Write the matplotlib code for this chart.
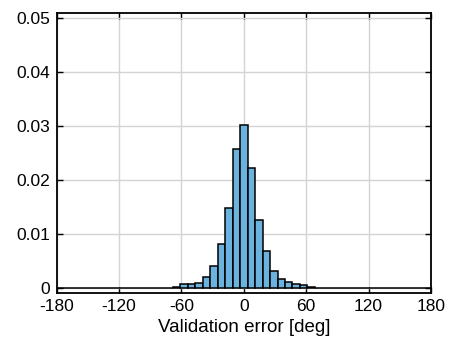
import numpy as np
import matplotlib
matplotlib.use("Agg")
import matplotlib.pyplot as plt
from matplotlib.ticker import FormatStrFormatter

plt.rcParams['font.family'] = ['Liberation Sans', 'DejaVu Sans']
plt.rcParams['axes.unicode_minus'] = False

# bin centres (deg), 7.2 deg wide bins
bin_centers = np.arange(-180, 180.1, 7.2)

# normalised counts (from -180 to 180)
density = [
    0, 0, 0, 0, 0, 0, 0, 0, 0, 0, 0, 0, 0, 0, 0, 0,
    0.0001, 0.0006, 0.0006, 0.00085, 0.002, 0.0041, 0.008, 0.0148, 0.0257,
    0.0302,
    0.0222, 0.0125, 0.0067, 0.0031, 0.0016, 0.0010, 0.00075, 0.0005, 0.0001,
    0, 0, 0, 0, 0, 0, 0, 0, 0, 0, 0, 0, 0, 0, 0, 0,
]

xticks = [-180, -120, -60, 0, 60, 120, 180]
yticks = [0, 0.01, 0.02, 0.03, 0.04, 0.05]

fig = plt.figure(figsize=(4.54, 3.41), dpi=100)
ax = fig.add_axes([0.1249, 0.1422, 0.8244, 0.8197])

ax.bar(bin_centers, density, width=7.2, color="#6cb2de",
       edgecolor="black", linewidth=1.1, zorder=3)

ax.set_xlim(-180, 180)
ax.set_ylim(-0.0009, 0.0509)
ax.set_xticks(xticks)
ax.set_yticks(yticks)
ax.yaxis.set_major_formatter(FormatStrFormatter('%g'))

ax.grid(True, color="#d4d4d4", linewidth=1.0, zorder=0)
ax.set_axisbelow(True)
ax.tick_params(direction="in", length=4, width=1.0, top=True, right=True,
               labelsize=12.5, pad=5, colors="black")
for s in ax.spines.values():
    s.set_linewidth(1.3)

ax.set_xlabel("Validation error [deg]", fontsize=13.5, labelpad=3)

fig.savefig("out.png", dpi=100)
